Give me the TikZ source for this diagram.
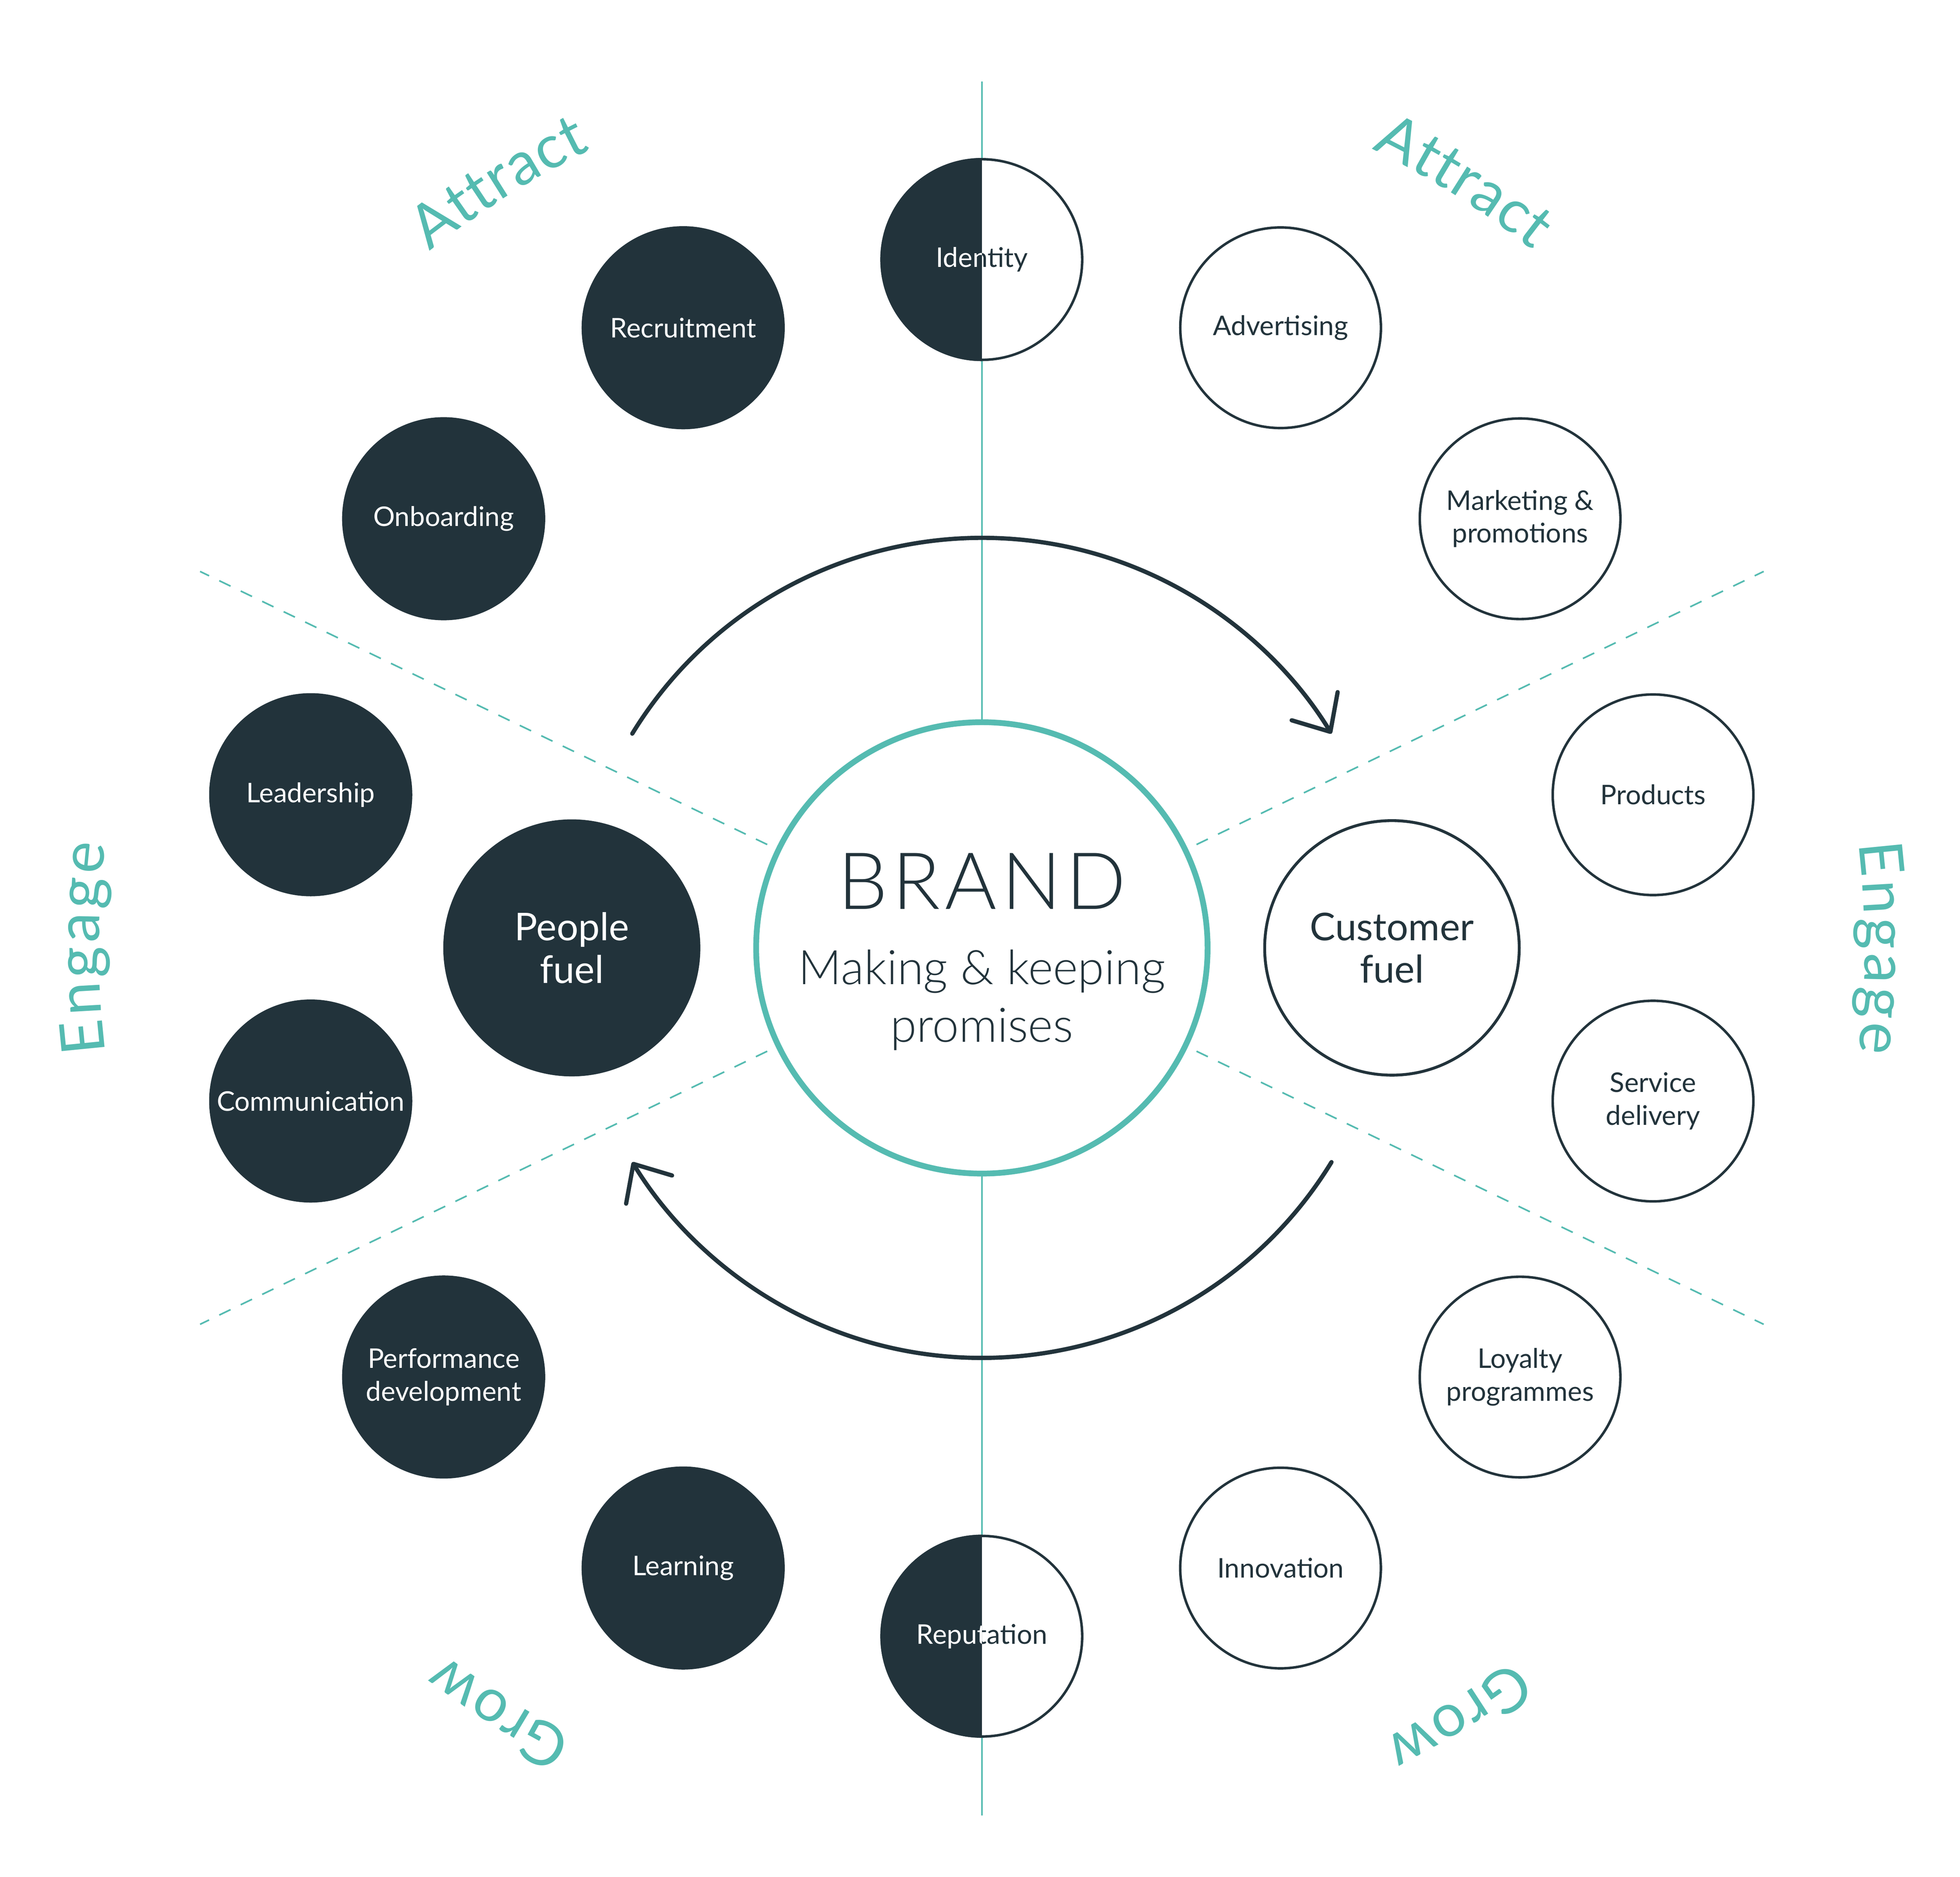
\documentclass[tikz,border=0pt]{standalone}
\usepackage{fontspec}
\setmainfont{Lato}
\newfontfamily\lightfont{Lato Light}
\newfontfamily\brandfont{Lato Light}[LetterSpace=6]
\newcommand\stagestyle{\fontsize{48}{48}\selectfont}
\usetikzlibrary{arrows.meta,decorations.text}
\definecolor{ink}{HTML}{22333B}
\definecolor{mint}{HTML}{55BBB1}
\begin{document}
\begin{tikzpicture}[x=1pt,y=1pt,
    darkball/.style={circle,fill=ink,text=white,minimum size=162pt,inner sep=0pt,align=center,font=\fontsize{21.6}{26}\selectfont},
    lightball/.style={circle,draw=ink,line width=2pt,fill=white,text=ink,minimum size=160pt,inner sep=0pt,align=center,font=\fontsize{21.6}{26}\selectfont},
    fuel/.style={circle,inner sep=0pt,align=center,font=\fontsize{30.5}{34}\selectfont},
    stage/.style={decorate,decoration={text along path,text color=mint,text align={fit to path},text={|\stagestyle|#1}}},
    divider/.style={draw=mint,line width=1.3pt},
    roundarrow/.style={draw=ink,line width=3.4pt,line cap=round,-{Straight Barb[length=24pt,width=43pt,round]}}]
    \useasboundingbox (-783,-741) rectangle (780,756);
    \draw[divider] (0,691) -- (0,-692);
    \foreach \a in {25.714,154.286,205.714,334.286}
      \draw[divider,dash pattern=on 10pt off 9pt] (\a:190pt) -- (\a:692pt);
    \node[circle,draw=mint,line width=4.6pt,fill=white,minimum size=360pt] (brand) at (0,0) {};
    \node[anchor=base,text=ink,font=\brandfont\fontsize{63}{63}\selectfont] (brandword) at (0,31) {BRAND};
    \node[anchor=base,text=ink,font=\lightfont\fontsize{38}{46}\selectfont] (making) at (0,-29) {Making \& keeping};
    \node[anchor=base,text=ink,font=\lightfont\fontsize{38}{46}\selectfont] (promises) at (0,-75) {promises};
    \node[fuel,fill=ink,text=white,minimum size=205pt] (people) at (-327,0) {People\\fuel};
    \node[fuel,draw=ink,line width=2.3pt,fill=white,text=ink,minimum size=203pt] (customer) at (327,0) {Customer\\fuel};
    \foreach \i/\nm/\lbl in {1/recruit/Recruitment,2/onboard/Onboarding,3/lead/Leadership,
        4/comm/Communication,5/perf/{Performance\\development},6/learn/Learning}
      \node[darkball] (\nm) at (90+\i*25.714:549pt) {\lbl};
    \foreach \i/\nm/\lbl in {8/innov/Innovation,9/loyal/{Loyalty\\programmes},10/service/{Service\\delivery},
        11/products/Products,12/market/{Marketing \&\\promotions},13/advert/Advertising}
      \node[lightball] (\nm) at (90+\i*25.714:549pt) {\lbl};
    \foreach \a/\nm/\lbl in {90/identity/Identity,270/reputation/Reputation}{
      \node[lightball] (\nm) at (\a:549pt) {\lbl};
      \begin{scope}
        \clip (\nm.center) ++(-90,-90) rectangle ++(90,180);
        \fill[ink] (\nm.center) circle[radius=81pt];
        \node[lightball,draw=none,fill=none,text=white] (\nm-w) at (\nm.center) {\lbl};
      \end{scope}
    }
    \coordinate (topstart) at (148.5:327pt);
    \coordinate (botstart) at (-31.5:327pt);
    \draw[roundarrow] (topstart) arc[start angle=148.5,end angle=31.5,radius=327pt];
    \draw[roundarrow] (botstart) arc[start angle=-31.5,end angle=-148.5,radius=327pt];
    \path[stage=Attract] (128.4:709pt) arc[start angle=128.4,end angle=116.1,radius=709pt];
    \path[stage=Attract] (64:709pt) arc[start angle=64,end angle=51.7,radius=709pt];
    \path[stage=Engage] (186.8:704pt) arc[start angle=186.8,end angle=173.2,radius=704pt];
    \path[stage=Engage] (6.8:704pt) arc[start angle=6.8,end angle=-6.8,radius=704pt];
    \path[stage=Grow] (242.6:708pt) arc[start angle=242.6,end angle=232.8,radius=708pt];
    \path[stage=Grow] (306.7:708pt) arc[start angle=306.7,end angle=296.9,radius=708pt];
\end{tikzpicture}
\end{document}
